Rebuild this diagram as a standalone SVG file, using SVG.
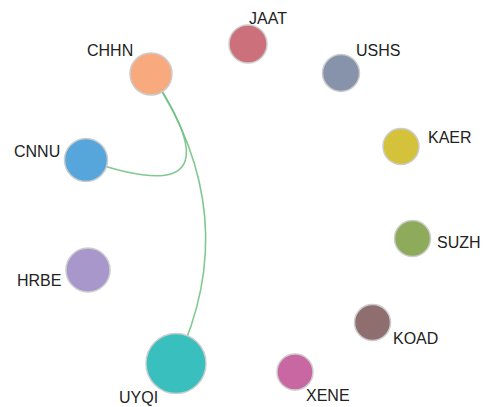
<svg xmlns="http://www.w3.org/2000/svg" width="485" height="407" viewBox="0 0 485 407">
<style>
.edge{fill:none;stroke:#6cc07e;stroke-width:1.6;stroke-opacity:0.85}
.node circle{stroke:#cccccc;stroke-width:1.5}
.node text{font-family:"Liberation Sans",Arial,sans-serif;font-size:16px;fill:#222}
</style>
<rect width="485" height="407" fill="#ffffff"/>
<g id="edges">
<path class="edge" d="M151,74 Q246,216 86,160"/>
<path class="edge" d="M151,74 Q246,216 176,363"/>
</g>
<g id="JAAT" class="node"><circle cx="248" cy="44" r="19" fill="#cc717c"/><text x="249" y="24">JAAT</text></g>
<g id="CHHN" class="node"><circle cx="151" cy="74" r="21" fill="#f8aa7e"/><text x="87" y="56">CHHN</text></g>
<g id="USHS" class="node"><circle cx="341" cy="73" r="18.5" fill="#8792ab"/><text x="356" y="56">USHS</text></g>
<g id="KAER" class="node"><circle cx="401" cy="146.5" r="18" fill="#d5c23b"/><text x="428" y="143">KAER</text></g>
<g id="CNNU" class="node"><circle cx="86" cy="160" r="21.5" fill="#56a6dc"/><text x="14" y="157">CNNU</text></g>
<g id="SUZH" class="node"><circle cx="412.5" cy="238.5" r="18" fill="#8dab5b"/><text x="437" y="248">SUZH</text></g>
<g id="HRBE" class="node"><circle cx="88" cy="270" r="22" fill="#a797ca"/><text x="17" y="286">HRBE</text></g>
<g id="KOAD" class="node"><circle cx="372.5" cy="322.5" r="18" fill="#8e6e6f"/><text x="393" y="344">KOAD</text></g>
<g id="XENE" class="node"><circle cx="295" cy="372" r="18" fill="#c967a2"/><text x="306" y="401">XENE</text></g>
<g id="UYQI" class="node"><circle cx="176" cy="363.5" r="30" fill="#39bfbe"/><text x="119" y="403">UYQI</text></g>
</svg>
